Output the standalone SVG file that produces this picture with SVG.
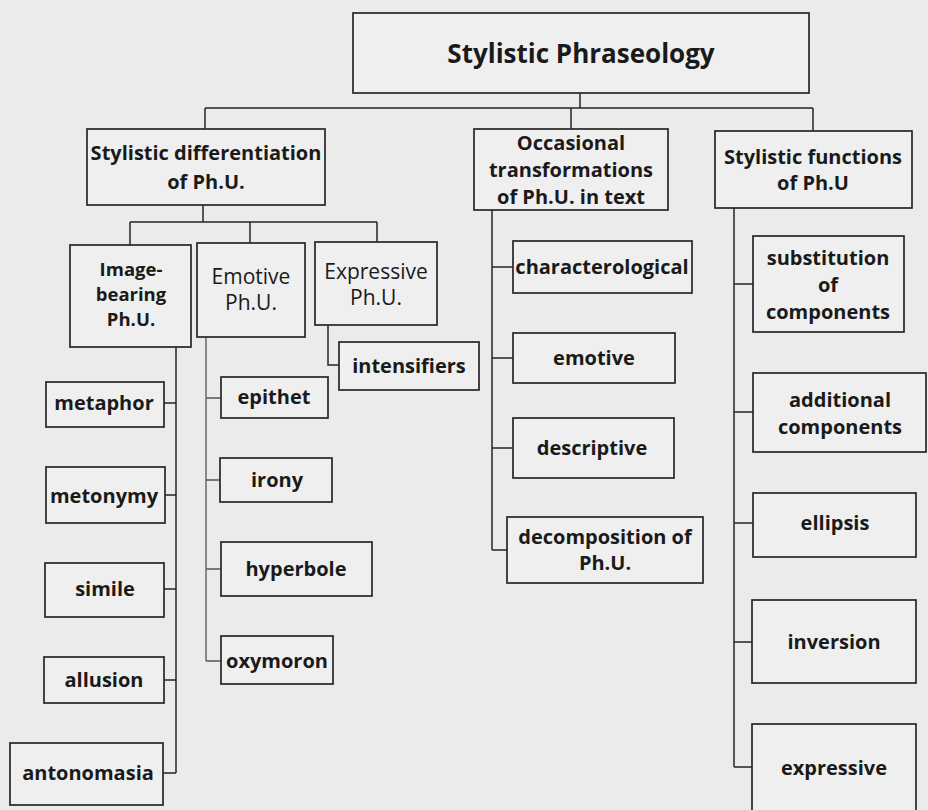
<svg xmlns="http://www.w3.org/2000/svg" width="928" height="810" viewBox="0 0 928 810">
<style>
  .bx { fill: #efefef; stroke: #262626; stroke-width: 1.7; }
  .cn { fill: none; stroke: #262626; stroke-width: 1.5; }
  .cl { fill: none; stroke: #555; stroke-width: 1.3; }
  text { font-family: "Open Sans", "Noto Sans", "Liberation Sans", sans-serif; fill: #1a1a1a; text-anchor: middle; }
  .h { font-weight: bold; font-size: 20px; }
  .i { font-weight: bold; font-size: 18.5px; }
  .r { font-weight: normal; font-size: 21px; }
  .l { font-weight: bold; font-size: 20px; }
</style>
<rect x="0" y="0" width="928" height="810" fill="#ebebeb"/>

<g id="connectors">
  <path class="cn" d="M580 93 V108 M205 108 H813 M205 108 V129 M571 108 V129 M813 108 V131"/>
  <path class="cn" d="M203 205 V222 M130 222 H377 M130 222 V245 M250 222 V243 M377 222 V242"/>
  <path class="cn" d="M176 347 V773 M164 403 H176 M165 495 H176 M164 589 H176 M164 680 H176 M163 773 H176"/>
  <path class="cl" d="M206 337 V661 M206 398 H221 M206 480 H220 M206 569 H221 M206 661 H221"/>
  <path class="cn" d="M328 325 V365 H339"/>
  <path class="cn" d="M492 210 V550 M492 267 H513 M492 358 H513 M492 448 H513 M492 550 H507"/>
  <path class="cn" d="M734 208 V767 M734 284 H753 M734 412 H753 M734 523 H753 M734 642 H752 M734 767 H752"/>
</g>

<g id="root">
  <rect class="bx" x="353" y="13" width="456" height="80"/>
  <text x="581" y="63" style="font-weight:bold;font-size:26px">Stylistic Phraseology</text>
</g>
<g id="diff">
  <rect class="bx" x="87" y="129" width="238" height="76"/>
  <text class="h" x="206" y="160">Stylistic differentiation</text>
  <text class="h" x="206" y="189">of Ph.U.</text>
</g>
<g id="occ">
  <rect class="bx" x="474" y="129" width="194" height="81"/>
  <text class="h" x="571" y="150">Occasional</text>
  <text class="h" x="571" y="177">transformations</text>
  <text class="h" x="571" y="204">of Ph.U. in text</text>
</g>
<g id="func">
  <rect class="bx" x="715" y="131" width="197" height="77"/>
  <text class="h" x="813" y="164">Stylistic functions</text>
  <text class="h" x="813" y="190">of Ph.U</text>
</g>
<g id="img">
  <rect class="bx" x="70" y="245" width="121" height="102"/>
  <text class="i" x="131" y="276">Image-</text>
  <text class="i" x="131" y="301">bearing</text>
  <text class="i" x="131" y="326">Ph.U.</text>
</g>
<g id="emo">
  <rect class="bx" x="197" y="243" width="108" height="94"/>
  <text class="r" x="251" y="284">Emotive</text>
  <text class="r" x="251" y="310">Ph.U.</text>
</g>
<g id="expr">
  <rect class="bx" x="315" y="242" width="122" height="83"/>
  <text class="r" x="376" y="279">Expressive</text>
  <text class="r" x="376" y="305">Ph.U.</text>
</g>
<g id="intensifiers">
  <rect class="bx" x="339" y="342" width="140" height="48"/>
  <text class="l" x="409" y="373">intensifiers</text>
</g>
<g id="metaphor">
  <rect class="bx" x="46" y="382" width="118" height="45"/>
  <text class="l" x="104" y="410">metaphor</text>
</g>
<g id="metonymy">
  <rect class="bx" x="46" y="467" width="119" height="56"/>
  <text class="l" x="104" y="503">metonymy</text>
</g>
<g id="simile">
  <rect class="bx" x="45" y="563" width="119" height="54"/>
  <text class="l" x="105" y="596">simile</text>
</g>
<g id="allusion">
  <rect class="bx" x="44" y="657" width="120" height="46"/>
  <text class="l" x="104" y="687">allusion</text>
</g>
<g id="antonomasia">
  <rect class="bx" x="10" y="743" width="153" height="62"/>
  <text class="l" x="88" y="780">antonomasia</text>
</g>
<g id="epithet">
  <rect class="bx" x="221" y="377" width="107" height="41"/>
  <text class="l" x="274" y="404">epithet</text>
</g>
<g id="irony">
  <rect class="bx" x="220" y="458" width="112" height="44"/>
  <text class="l" x="277" y="487">irony</text>
</g>
<g id="hyperbole">
  <rect class="bx" x="221" y="542" width="151" height="54"/>
  <text class="l" x="296" y="576">hyperbole</text>
</g>
<g id="oxymoron">
  <rect class="bx" x="221" y="636" width="112" height="48"/>
  <text class="l" x="277" y="668">oxymoron</text>
</g>
<g id="characterological">
  <rect class="bx" x="513" y="241" width="179" height="52"/>
  <text class="l" x="602" y="274">characterological</text>
</g>
<g id="emotive">
  <rect class="bx" x="513" y="333" width="162" height="50"/>
  <text class="l" x="594" y="365">emotive</text>
</g>
<g id="descriptive">
  <rect class="bx" x="513" y="418" width="161" height="60"/>
  <text class="l" x="592" y="455">descriptive</text>
</g>
<g id="decomposition">
  <rect class="bx" x="507" y="517" width="196" height="66"/>
  <text class="l" x="605" y="544">decomposition of</text>
  <text class="l" x="605" y="570">Ph.U.</text>
</g>
<g id="substitution">
  <rect class="bx" x="753" y="236" width="151" height="96"/>
  <text class="l" x="828" y="265">substitution</text>
  <text class="l" x="828" y="292">of</text>
  <text class="l" x="828" y="319">components</text>
</g>
<g id="additional">
  <rect class="bx" x="753" y="373" width="173" height="79"/>
  <text class="l" x="840" y="407">additional</text>
  <text class="l" x="840" y="434">components</text>
</g>
<g id="ellipsis">
  <rect class="bx" x="753" y="493" width="163" height="64"/>
  <text class="l" x="835" y="530">ellipsis</text>
</g>
<g id="inversion">
  <rect class="bx" x="752" y="600" width="164" height="83"/>
  <text class="l" x="834" y="649">inversion</text>
</g>
<g id="expressive">
  <rect class="bx" x="752" y="724" width="164" height="90"/>
  <text class="l" x="834" y="775">expressive</text>
</g>
</svg>
